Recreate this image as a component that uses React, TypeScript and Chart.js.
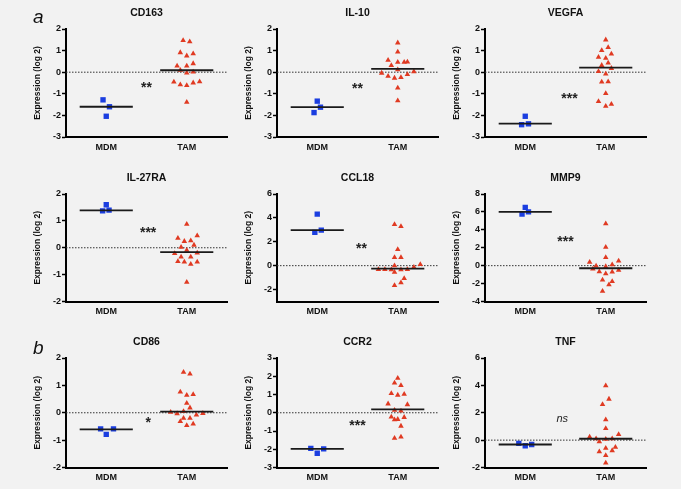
import React, { useEffect, useRef } from "react";
import { Chart, registerables } from "chart.js";
Chart.register(...registerables);

const FONT = '"Liberation Sans", Arial, Helvetica, sans-serif';
const BLUE = "#1b3ee0";
const RED = "#e03a22";
const BG = "#f2f2f2";

// ---------- data ----------
const categories = ["MDM", "TAM"];
const genes = ["CD163", "IL-10", "VEGFA", "IL-27RA", "CCL18", "MMP9", "CD86", "CCR2", "TNF"];

const cd163Mdm = [-1.28, -1.6, -2.04];
const cd163MdmJitter = [-0.04, 0.04, 0];
const cd163Tam = [1.47, 1.41, 0.91, 0.76, 0.86, 0.29, 0.29, 0.4, 0.09, -0.03, 0.01, -0.45, -0.58, -0.61, -0.49, -0.44, -1.39];
const cd163TamJitter = [-0.045, 0.037, -0.08, 0, 0.08, -0.12, 0, 0.08, -0.08, 0, 0.08, -0.16, -0.08, 0, 0.08, 0.16, 0];

const il10Mdm = [-1.34, -1.62, -1.87];
const il10MdmJitter = [0, 0.04, -0.04];
const il10Tam = [1.36, 0.94, 0.56, 0.31, 0.46, 0.46, 0.48, -0.04, -0.18, -0.27, -0.24, 0.12, -0.1, 0.03, -0.73, -1.32];
const il10TamJitter = [0, 0, -0.12, -0.08, 0, 0.08, 0.12, -0.2, -0.12, -0.04, 0.04, 0, 0.12, 0.2, 0, 0];

const vegfaMdm = [-2.04, -2.43, -2.39];
const vegfaMdmJitter = [0, -0.045, 0.04];
const vegfaTam = [1.5, 1.15, 1.01, 0.85, 0.7, 0.65, 0.43, 0.32, 0.18, 0.04, -0.08, -0.45, -0.44, -0.98, -1.35, -1.48, -1.57];
const vegfaTamJitter = [0, 0.03, -0.05, 0.07, -0.09, 0, 0.03, -0.05, 0.07, -0.09, 0, -0.05, 0.03, 0, -0.09, 0.07, 0];

const il27raMdm = [1.6, 1.37, 1.4];
const il27raMdmJitter = [0, -0.045, 0.035];
const il27raTam = [0.88, 0.36, 0.45, 0.24, 0.26, 0.1, 0.02, -0.09, -0.21, -0.34, -0.34, -0.19, -0.51, -0.53, -0.61, -0.53, -1.28];
const il27raTamJitter = [0, -0.11, 0.13, -0.03, 0.05, 0.09, -0.07, 0, -0.15, -0.07, 0.05, 0.13, -0.11, -0.03, 0.05, 0.13, 0];

const ccl18Mdm = [4.32, 2.98, 2.79];
const ccl18MdmJitter = [0, 0.05, -0.03];
const ccl18Tam = [3.45, 3.29, 1.36, 0.69, 0.69, 0.0, 0.1, -0.12, -0.31, -0.31, -0.34, -0.34, -0.31, -0.54, -1.07, -1.43, -1.66];
const ccl18TamJitter = [-0.04, 0.04, 0, -0.04, 0.04, -0.04, 0.28, 0.2, -0.24, -0.16, -0.08, 0.04, 0.12, -0.04, 0.08, 0.04, -0.04];

const mmp9Mdm = [6.5, 6.0, 5.75];
const mmp9MdmJitter = [0, 0.04, -0.04];
const mmp9Tam = [4.69, 2.07, 0.91, 0.39, 0.53, -0.03, -0.1, 0.12, -0.36, -0.66, -0.7, -0.51, -0.89, -1.6, -1.75, -2.12, -2.84];
const mmp9TamJitter = [0, 0, 0, -0.2, 0.16, -0.12, 0, 0.08, -0.16, -0.08, 0.08, 0.16, 0, -0.04, 0.08, 0.04, -0.04];

const cd86Mdm = [-0.59, -0.59, -0.79];
const cd86MdmJitter = [-0.07, 0.09, 0];
const cd86Tam = [1.48, 1.42, 0.76, 0.64, 0.67, 0.35, 0.18, 0.02, -0.03, 0.05, -0.08, -0.02, -0.2, -0.2, -0.32, -0.46, -0.41];
const cd86TamJitter = [-0.04, 0.04, -0.08, 0, 0.08, 0, 0.04, -0.2, -0.12, -0.04, 0.12, 0.2, -0.04, 0.04, -0.08, 0, 0.08];

const ccr2Mdm = [-1.95, -2.22, -1.98];
const ccr2MdmJitter = [-0.08, 0, 0.08];
const ccr2Tam = [1.89, 1.63, 1.5, 1.06, 0.97, 1.02, 0.49, 0.45, 0.14, 0.1, -0.23, -0.25, -0.38, -0.36, -0.73, -1.39, -1.32];
const ccr2TamJitter = [0, -0.04, 0.04, -0.08, 0, 0.08, -0.12, 0.12, -0.04, 0.04, -0.08, 0.08, -0.04, 0, 0.04, -0.04, 0.04];

const tnfMdm = [-0.24, -0.41, -0.32];
const tnfMdmJitter = [-0.08, 0, 0.08];
const tnfTam = [3.98, 3.0, 2.61, 1.49, 0.85, 0.41, 0.24, 0.1, 0.07, 0.1, -0.12, -0.51, -0.59, -0.85, -0.76, -1.12, -1.66];
const tnfTamJitter = [0, 0.04, -0.04, 0, 0, 0.16, -0.2, -0.12, 0, 0.08, -0.08, 0.12, 0, -0.08, 0.08, 0, 0];

const mdmValues = [cd163Mdm, il10Mdm, vegfaMdm, il27raMdm, ccl18Mdm, mmp9Mdm, cd86Mdm, ccr2Mdm, tnfMdm];
const mdmJitters = [cd163MdmJitter, il10MdmJitter, vegfaMdmJitter, il27raMdmJitter, ccl18MdmJitter, mmp9MdmJitter, cd86MdmJitter, ccr2MdmJitter, tnfMdmJitter];
const tamValues = [cd163Tam, il10Tam, vegfaTam, il27raTam, ccl18Tam, mmp9Tam, cd86Tam, ccr2Tam, tnfTam];
const tamJitters = [cd163TamJitter, il10TamJitter, vegfaTamJitter, il27raTamJitter, ccl18TamJitter, mmp9TamJitter, cd86TamJitter, ccr2TamJitter, tnfTamJitter];

const medianMdm = [-1.6, -1.62, -2.38, 1.39, 2.98, 6.0, -0.61, -1.98, -0.32];
const medianTam = [0.09, 0.15, 0.21, -0.16, -0.25, -0.29, 0.04, 0.18, 0.1];

const yMins = [-3, -3, -3, -2, -3, -4, -2, -3, -2];
const yMaxs = [2, 2, 2, 2, 6, 8, 2, 3, 6];
const yTickLists = [
  [2, 1, 0, -1, -2, -3],
  [2, 1, 0, -1, -2, -3],
  [2, 1, 0, -1, -2, -3],
  [2, 1, 0, -1, -2],
  [6, 4, 2, 0, -2],
  [8, 6, 4, 2, 0, -2, -4],
  [2, 1, 0, -1, -2],
  [3, 2, 1, 0, -1, -2, -3],
  [6, 4, 2, 0, -2],
];

const sigText = ["**", "**", "***", "***", "**", "***", "*", "***", "ns"];
const sigX = [1.5, 1.5, 1.55, 1.52, 1.55, 1.5, 1.52, 1.5, 1.46];
const sigY = [-0.55, -0.6, -1.04, 0.71, 1.72, 3.1, -0.23, -0.51, 1.51];

const yTitle = "Expression (log 2)";
const panelLetters = ["a", "b"];

// ---------- layout ----------
const colLeft = [0, 211, 419];
const colPadRight = [2.5, 3.5, 2];
const rowTop = [0, 165, 329];
const rowHeight = [157, 157, 159];
const rowPadBottom = [0, 0.5, 0.5];
const CW = 231;

const sigPlugin = {
  id: "sigLabel",
  afterDatasetsDraw(chart: any, _a: any, opts: any) {
    if (!opts || !opts.text) return;
    const { ctx, scales } = chart;
    const px = scales.x.getPixelForValue(opts.x);
    const py = scales.y.getPixelForValue(opts.y);
    ctx.save();
    ctx.fillStyle = "#222";
    ctx.textAlign = "center";
    ctx.textBaseline = "alphabetic";
    if (opts.text === "ns") {
      ctx.font = `italic 11px ${FONT}`;
      ctx.fillText(opts.text, px, py + 3);
    } else {
      ctx.font = `bold 14px ${FONT}`;
      ctx.fillText(opts.text, px, py + 8);
    }
    ctx.restore();
  },
};

function Panel({ i }: { i: number }) {
  const ref = useRef<HTMLCanvasElement | null>(null);
  const col = i % 3;
  const row = Math.floor(i / 3);
  useEffect(() => {
    if (!ref.current) return;
    const xMin = 0.5;
    const xMax = 2.5;
    const mdmPts = mdmValues[i].map((v, k) => ({ x: 1 + mdmJitters[i][k], y: v }));
    const tamPts = tamValues[i].map((v, k) => ({ x: 2 + tamJitters[i][k], y: v }));
    const chart = new Chart(ref.current, {
      type: "scatter",
      data: {
        datasets: [
          {
            data: [{ x: xMin, y: 0 }, { x: xMax, y: 0 }],
            showLine: true,
            borderColor: "#333",
            borderWidth: 1,
            borderDash: [1.5, 1.5],
            pointRadius: 0,
            order: 4,
          },
          {
            data: mdmPts,
            pointStyle: "rect",
            pointRadius: 3.8,
            backgroundColor: BLUE,
            borderColor: BLUE,
            borderWidth: 0,
            order: 3,
          },
          {
            data: tamPts,
            pointStyle: "triangle",
            pointRadius: 3.2,
            backgroundColor: RED,
            borderColor: RED,
            borderWidth: 0,
            order: 2,
          },
          {
            data: [{ x: 0.67, y: medianMdm[i] }, { x: 1.33, y: medianMdm[i] }],
            showLine: true,
            borderColor: "#1a1a1a",
            borderWidth: 1.8,
            pointRadius: 0,
            order: 1,
          },
          {
            data: [{ x: 1.67, y: medianTam[i] }, { x: 2.33, y: medianTam[i] }],
            showLine: true,
            borderColor: "#1a1a1a",
            borderWidth: 1.8,
            pointRadius: 0,
            order: 1,
          },
        ],
      },
      options: {
        responsive: false,
        animation: false,
        devicePixelRatio: 1,
        layout: { padding: { left: 29, right: colPadRight[col], top: 0, bottom: rowPadBottom[row] } },
        plugins: {
          legend: { display: false },
          tooltip: { enabled: false },
          title: {
            display: true,
            text: genes[i],
            fullSize: false,
            color: "#111",
            font: { family: FONT, size: 10.5, weight: "bold" },
            padding: { top: 6.7, bottom: 9.7 },
          },
          sigLabel: { text: sigText[i], x: sigX[i], y: sigY[i] },
        } as any,
        scales: {
          x: {
            type: "linear",
            min: xMin,
            max: xMax,
            afterBuildTicks: (s: any) => {
              s.ticks = categories.map((_, k) => ({ value: k + 1 }));
            },
            afterFit: (s: any) => {
              s.height = 20;
            },
            ticks: {
              callback: (v: any) => categories[Math.round(Number(v)) - 1] ?? "",
              color: "#111",
              font: { family: FONT, size: 9, weight: "bold" },
              padding: 5,
              maxRotation: 0,
            },
            grid: { display: false, drawTicks: false, tickLength: 0 },
            border: { display: true, color: "#000", width: 2 },
          },
          y: {
            type: "linear",
            min: yMins[i],
            max: yMaxs[i],
            afterBuildTicks: (s: any) => {
              s.ticks = yTickLists[i].map((v) => ({ value: v }));
            },
            afterFit: (s: any) => {
              s.width = 37;
            },
            ticks: {
              color: "#111",
              font: { family: FONT, size: 9, weight: "bold" },
              padding: 1,
            },
            grid: {
              display: true,
              drawOnChartArea: false,
              drawTicks: true,
              tickLength: 4,
              tickWidth: 1.5,
              tickColor: "#000",
            },
            border: { display: true, color: "#000", width: 2 },
            title: {
              display: true,
              text: yTitle,
              color: "#111",
              font: { family: FONT, size: 8.5, weight: "bold" },
              padding: { top: 4, bottom: 4 },
            },
          },
        },
      },
      plugins: [sigPlugin as any],
    } as any);
    return () => chart.destroy();
  }, [i]);
  return (
    <canvas
      ref={ref}
      width={CW}
      height={rowHeight[row]}
      style={{ position: "absolute", left: colLeft[col], top: rowTop[row], width: CW, height: rowHeight[row] }}
    />
  );
}

export default function App() {
  return (
    <div
      style={{
        position: "fixed",
        left: 0,
        top: 0,
        width: 681,
        height: 489,
        background: BG,
        overflow: "hidden",
        fontFamily: FONT,
      }}
    >
      {genes.map((_, i) => (
        <Panel key={i} i={i} />
      ))}
      <span style={{ position: "absolute", left: 33, top: 6, fontSize: 19, fontStyle: "italic", color: "#111", lineHeight: "22px" }}>
        {panelLetters[0]}
      </span>
      <span style={{ position: "absolute", left: 33, top: 337, fontSize: 19, fontStyle: "italic", color: "#111", lineHeight: "22px" }}>
        {panelLetters[1]}
      </span>
    </div>
  );
}
